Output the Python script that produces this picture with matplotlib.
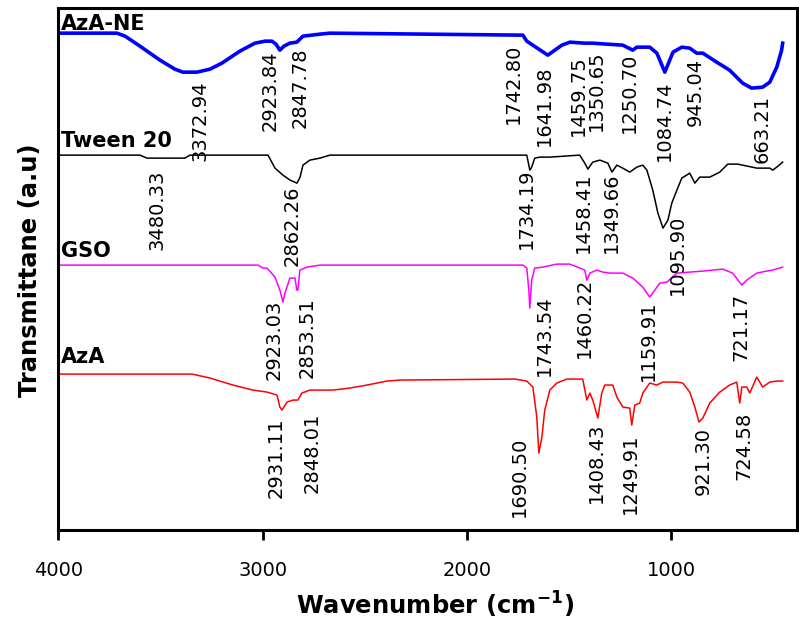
import matplotlib
matplotlib.use("Agg")
import matplotlib.pyplot as plt

# FTIR spectra, wavenumber (cm-1) vs stacked transmittance (a.u.)
aza_ne_wn = [4000, 3714, 3674, 3601, 3503, 3430, 3391, 3322, 3258, 3200, 3112, 3038,
             2988, 2955, 2935, 2916, 2896, 2867, 2833, 2803, 2720, 2671, 1726, 1707,
             1604, 1535, 1496, 1423, 1384, 1315, 1237, 1188, 1168, 1105, 1070, 1031,
             991, 948, 909, 875, 845, 777, 714, 650, 606, 552, 517, 483, 469, 459, 454]
aza_ne_t = [497, 497, 494, 484, 470, 461, 458, 458, 461, 467, 479, 487,
            489, 489, 486, 480, 484, 487, 488, 494, 496, 497, 495, 489,
            475, 485, 488, 487, 487, 486, 485, 480, 483, 483, 477, 458,
            478, 483, 482, 477, 477, 468, 460, 447, 442, 443, 448, 463, 473, 480, 487]

tween_wn = [4000, 3601, 3567, 3381, 3356, 2974, 2940, 2901, 2866, 2832, 2817, 2803,
            2769, 2720, 2671, 1707, 1692, 1683, 1668, 1643, 1594, 1448, 1423, 1408,
            1384, 1349, 1310, 1290, 1266, 1237, 1203, 1168, 1139, 1119, 1090, 1065,
            1040, 1016, 997, 972, 948, 909, 884, 860, 811, 762, 723, 674, 581, 517,
            503, 483, 454]
tween_t = [375, 375, 372, 372, 375, 375, 362, 355, 350, 347, 353, 365,
           370, 372, 375, 375, 360, 363, 372, 373, 373, 375, 367, 361,
           368, 370, 367, 358, 365, 362, 358, 363, 365, 360, 340, 317,
           302, 310, 327, 340, 352, 357, 347, 353, 353, 358, 366, 366, 362, 362,
           360, 363, 368]

gso_wn = [4000, 3023, 2999, 2979, 2940, 2916, 2901, 2891, 2867, 2842, 2833, 2828,
          2818, 2783, 2720, 1726, 1707, 1697, 1692, 1683, 1668, 1628, 1560, 1496,
          1423, 1413, 1398, 1364, 1335, 1300, 1237, 1188, 1139, 1105, 1080, 1055,
          1021, 972, 909, 845, 748, 699, 654, 630, 581, 532, 503, 454]
gso_t = [265, 265, 262, 262, 253, 240, 228, 237, 252, 252, 240, 240,
         260, 263, 265, 265, 262, 240, 222, 250, 262, 263, 266, 266,
         260, 250, 257, 260, 258, 257, 257, 252, 243, 233, 240, 247,
         248, 257, 258, 259, 261, 257, 245, 250, 257, 259, 260, 263]

aza_wn = [4000, 3346, 3258, 3146, 3048, 2979, 2930, 2916, 2906, 2881, 2852, 2828,
          2808, 2769, 2656, 2573, 2490, 2392, 2328, 1765, 1707, 1677, 1658, 1648,
          1633, 1619, 1594, 1560, 1511, 1433, 1413, 1398, 1384, 1359, 1340, 1325,
          1286, 1266, 1237, 1203, 1193, 1178, 1154, 1139, 1105, 1070, 1041, 972,
          943, 909, 884, 864, 845, 811, 762, 714, 679, 664, 654, 630, 615, 581,
          552, 517, 483, 454]
aza_t = [156, 156, 152, 145, 140, 138, 135, 123, 120, 128, 130, 130,
         137, 140, 140, 142, 145, 149, 150, 151, 149, 143, 113, 77,
         93, 120, 140, 147, 151, 151, 130, 137, 130, 112, 137, 145,
         145, 133, 123, 122, 105, 125, 127, 137, 147, 145, 148, 148,
         147, 138, 123, 108, 112, 127, 138, 145, 148, 127, 143, 143, 137, 153,
         143, 148, 149, 149]

# peak labels: text, wavenumber position, top of label (a.u.)
aza_ne_peaks = [("3372.94", 3307, 450), ("2923.84", 2965, 480), ("2847.78", 2818, 483),
                ("1742.80", 1775, 487), ("1641.98", 1619, 465), ("1459.75", 1452, 475),
                ("1350.65", 1364, 480), ("1250.70", 1203, 478), ("1084.74", 1031, 450),
                ("945.04", 884, 472), ("663.21", 556, 435)]
tween_peaks = [("3480.33", 3518, 360), ("2862.26", 2857, 345), ("1734.19", 1707, 362),
               ("1458.41", 1428, 358), ("1349.66", 1291, 358), ("1095.90", 968, 315)]
gso_peaks = [("2923.03", 2945, 230), ("2853.51", 2784, 233), ("1743.54", 1623, 235),
             ("1460.22", 1423, 252), ("1159.91", 1114, 230), ("721.17", 659, 237)]
aza_peaks = [("2931.11", 2935, 113), ("2848.01", 2759, 117), ("1690.50", 1741, 93),
             ("1408.43", 1364, 107), ("1249.91", 1198, 97), ("921.30", 845, 103),
             ("724.58", 644, 118)]

names = ["AzA-NE", "Tween 20", "GSO", "AzA"]
name_y = [500, 383, 273, 167]

fig = plt.figure(figsize=(7.99, 6.28), dpi=100)
ax = fig.add_axes([0.0732, 0.156, 0.924, 0.831])

ax.plot(aza_ne_wn, aza_ne_t, color="#0000FF", lw=2.6)
ax.plot(tween_wn, tween_t, color="black", lw=1.1)
ax.plot(gso_wn, gso_t, color="#FF00FF", lw=1.1)
ax.plot(aza_wn, aza_t, color="#FF0000", lw=1.1)

for group in [aza_ne_peaks, tween_peaks, gso_peaks, aza_peaks]:
    for txt, x, y in group:
        ax.text(x, y, txt, rotation=90, ha="center", va="top", fontsize=14)

for n, y in zip(names, name_y):
    ax.text(3990, y, n, ha="left", va="baseline", fontsize=15, fontweight="bold")

ax.set_xlim(4000, 385)
ax.set_ylim(0, 522)
ax.set_xticks([4000, 3000, 2000, 1000])
ax.set_yticks([])
ax.tick_params(axis="x", direction="out", length=7, width=2, labelsize=14, pad=15)
for s in ax.spines.values():
    s.set_linewidth(2.2)

fig.text(435 / 799, 1 - 605 / 628, "Wavenumber (cm$^{\\mathbf{-1}}$)", ha="center", va="center",
         fontsize=17.5, fontweight="bold")
fig.text(30 / 799, 1 - 270 / 628, "Transmittane (a.u)", rotation=90, ha="center", va="center",
         fontsize=17.5, fontweight="bold")

fig.savefig("out.png", dpi=100)
